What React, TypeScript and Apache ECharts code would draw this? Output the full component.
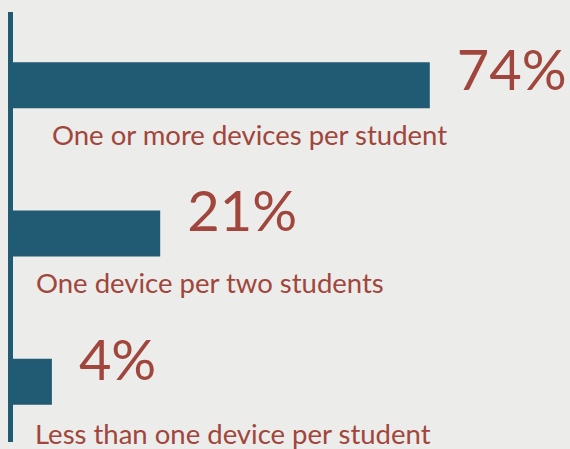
import React, { useEffect, useRef } from "react";
import * as echarts from "echarts";

const categories = [
  "One or more devices per student",
  "One device per two students",
  "Less than one device per student",
];
const valueLabels = ["74%", "21%", "4%"];
// bar lengths as drawn in the picture (scaled so the first bar reads 74)
const barLengths = [74, 26.7, 7.7];

const BAR = "#215a73";
const RED = "#a0463c";
const BG = "#ececea";

// per-bar label tweaks (layout only)
const valueOffsetY = [-17, -24, -23];
const catPos: [number, number][] = [
  [44, 58],
  [28, 58],
  [27, 61],
];

export default function App() {
  const ref = useRef<HTMLDivElement>(null);
  useEffect(() => {
    if (!ref.current) return;
    const chart = echarts.init(ref.current, null, { renderer: "svg" });
    chart.setOption({
      animation: false,
      backgroundColor: BG,
      grid: {
        left: 8,
        top: 11,
        width: 570,
        height: 445,
        outerBoundsMode: "none",
        containLabel: false,
      },
      xAxis: { type: "value", min: 0, max: 100, show: false },
      yAxis: {
        type: "category",
        data: categories,
        inverse: true,
        show: false,
      },
      graphic: [
        {
          type: "rect",
          shape: { x: 8, y: 12, width: 5, height: 430 },
          style: { fill: BAR },
          z: 10,
        },
      ],
      series: [
        {
          type: "bar",
          barWidth: 46,
          barGap: "-100%",
          itemStyle: { color: BAR },
          data: barLengths.map((v, i) => ({
            value: v,
            label: {
              show: true,
              position: "right",
              distance: 27,
              offset: [0, valueOffsetY[i]],
              formatter: valueLabels[i],
              color: RED,
              fontFamily: "Lato",
              fontSize: 56,
              fontWeight: 400,
            },
          })),
        },
        {
          type: "bar",
          barWidth: 46,
          barGap: "-100%",
          silent: true,
          itemStyle: { color: "rgba(0,0,0,0)" },
          data: barLengths.map((v, i) => ({
            value: v,
            label: {
              show: true,
              position: catPos[i],
              align: "left",
              verticalAlign: "top",
              formatter: categories[i],
              color: RED,
              fontFamily: "Lato",
              fontSize: 27.5,
            },
          })),
        },
      ],
    });
    return () => chart.dispose();
  }, []);
  return <div ref={ref} style={{ width: 570, height: 449, position: "fixed", left: 0, top: 0 }} />;
}
